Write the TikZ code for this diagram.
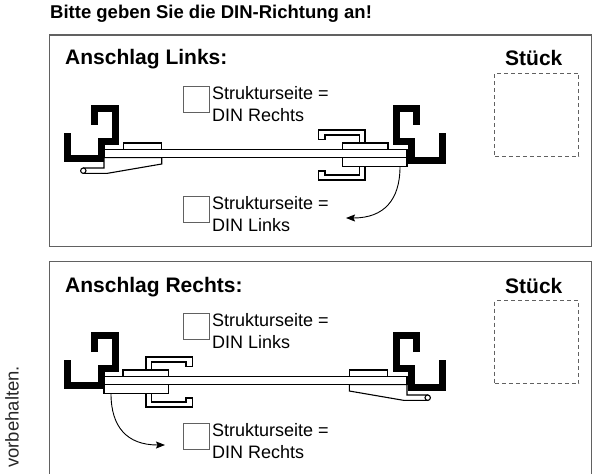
\documentclass[tikz,border=0pt]{standalone}
\usepackage{fontspec}
\setmainfont{Liberation Sans}
\usetikzlibrary{arrows.meta}
\begin{document}
\begin{tikzpicture}[
 x=1pt, y=-1pt,
 panel/.style={draw=black!62, line width=1.2pt},
 stopper/.style={draw=black, line width=7pt, line join=miter},
 pane/.style={draw=black, line width=1.1pt, fill=white},
 chk/.style={draw=black!62, line width=1pt, minimum size=26pt, inner sep=0pt, anchor=north west},
 lbl/.style={font=\fontsize{18}{22}\selectfont, align=left, anchor=north west, inner sep=0pt},
 heading/.style={font=\fontsize{21}{24}\selectfont\bfseries, anchor=base west, inner sep=0pt},
 sample/.style={draw=black!62, dash pattern=on 4pt off 3pt, line width=1pt, minimum width=84pt, minimum height=83pt, inner sep=0pt, anchor=north west},
 turnarrow/.style={draw=black, line width=0.9pt, -{Stealth[length=9pt,width=7pt,inset=1.5pt]}},
 stoppers/.pic={
  \draw[stopper] (94,125) -- (94,108.5) -- (115,108.5) -- (115,141.5) -- (101.7,141.5) -- (101.7,158.5) -- (67.5,158.5) -- (67.5,133);
  \draw[stopper] (416.7,125) -- (416.7,108.5) -- (396.3,108.5) -- (396.3,141.5) -- (411.5,141.5) -- (411.5,160) -- (442.5,160) -- (442.5,133);
 },
 glasspane/.pic={
  % clips
  \draw[pane] (318.3,130) -- (365,130) -- (365,143) -- (359.3,143) -- (359.3,135) -- (325,135) -- (325,139.5) -- (318.3,139.5) -- cycle;
  \draw[pane] (318.3,180) -- (365,180) -- (365,166.5) -- (359.3,166.5) -- (359.3,175) -- (325,175) -- (325,171) -- (318.3,171) -- cycle;
  % small plates above
  \draw[pane] (123.3,143) rectangle (161.7,149.5);
  \draw[pane] (342.7,143) rectangle (388,149.5);
  % hinge strip
  \draw[pane] (161.7,157.5) -- (104,157.5) -- (104,168) -- (83.3,168) -- (83.3,173.4) -- (107,173.4) -- (161.7,164) -- cycle;
  \draw[pane] (83.3,170.7) circle[radius=2.7pt];
  % lower plate
  \draw[pane] (342.7,157.5) rectangle (407,166.5);
  % long plate
  \draw[pane] (104,149.5) rectangle (407,157.5);
  % turn arrow
  \coordinate (-from) at (400,166.5);
  \coordinate (-to) at (346,218);
  \draw[turnarrow] (-from) .. controls (400,200) and (384,218) .. (-to);
 }
]
\useasboundingbox (0,0) rectangle (593,473);

\node[font=\fontsize{18.5}{22}\selectfont\bfseries, anchor=base west, inner sep=0pt] (title) at (50,19) {Bitte geben Sie die DIN-Richtung an!};

% top panel
\draw[panel] (49.3,35) rectangle (591.7,246.7);
\node[heading] (h1) at (65,65) {Anschlag Links:};
\node[heading] (st1) at (505,66) {Stück};
\node[sample] (sq1) at (494.3,72.7) {};
\pic at (0,0) {stoppers};
\pic (g1) at (0,0) {glasspane};
\node[chk] (c1) at (183,86) {};
\node[lbl] (t1) at (212,86) {Strukturseite =\\DIN Rechts};
\node[chk] (c2) at (183,196) {};
\node[lbl] (t2) at (212,196) {Strukturseite =\\DIN Links};

% bottom panel
\draw[panel] (49.3,475) -- (49.3,261.7) -- (591.7,261.7) -- (591.7,475);
\node[heading] (h2) at (65,292) {Anschlag Rechts:};
\node[heading] (st2) at (505,293) {Stück};
\node[sample] (sq2) at (494.3,300) {};
\pic at (0,227) {stoppers};
\pic[xscale=-1] (g2) at (511,227) {glasspane};
\node[chk] (c3) at (183,313) {};
\node[lbl] (t3) at (212,313) {Strukturseite =\\DIN Links};
\node[chk] (c4) at (183,423) {};
\node[lbl] (t4) at (212,423) {Strukturseite =\\DIN Rechts};

\node[rotate=90, anchor=base west, font=\fontsize{18.5}{22}\selectfont, inner sep=0pt, text=black!85] (note) at (18.5,468) {vorbehalten.};
\end{tikzpicture}
\end{document}
